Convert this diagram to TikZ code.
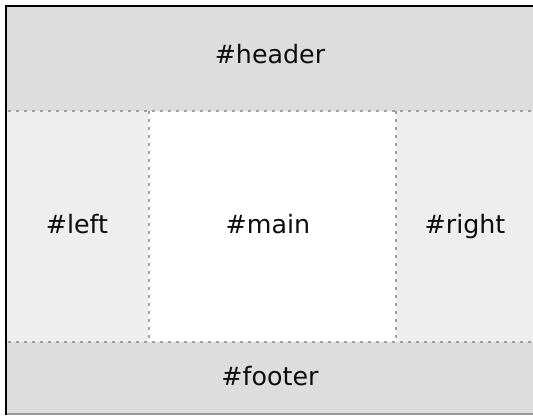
\documentclass[tikz,border=0pt]{standalone}
\usepackage{fontspec}
\setmainfont{DejaVu Sans}
\definecolor{hdrgray}{HTML}{DDDDDD}
\definecolor{sidegray}{HTML}{EEEEEE}
\definecolor{dotgray}{HTML}{A0A0A0}
\begin{document}
\begin{tikzpicture}[x=0.75pt,y=-0.75pt,
  lbl/.style={font=\fontsize{19}{22}\selectfont, text=black!95, anchor=base, inner sep=0pt},
  sepline/.style={draw=dotgray, line width=2.2pt, dash pattern=on 2.2pt off 3.8pt},
  region/.style={draw=none}]
\useasboundingbox (0,0) rectangle (533,415);
\fill[white] (0,0) rectangle (533,415);
% regions
\fill[hdrgray] (6,6) rectangle (533,111);
\fill[sidegray] (6,111) rectangle (149,342);
\fill[white] (149,111) rectangle (396,342);
\fill[sidegray] (396,111) rectangle (533,342);
\fill[hdrgray] (6,342) rectangle (533,413);
% outer borders
\coordinate (tl) at (6,6);
\coordinate (tr) at (533,6);
\coordinate (bl) at (6,415);
\coordinate (bl2) at (6,414);
\coordinate (br) at (533,414);
\draw[gray!80, line width=1.5pt] (bl2) -- (br);
\draw[black, line width=1.5pt] (bl) -- (tl) -- (tr);
% dotted separators
\coordinate (h1l) at (8,111);
\coordinate (h1r) at (533,111);
\coordinate (h2l) at (8,342);
\coordinate (h2r) at (533,342);
\coordinate (v1t) at (149,111);
\coordinate (v1b) at (149,342);
\coordinate (v2t) at (396,111);
\coordinate (v2b) at (396,342);
\draw[sepline] (h1l) -- (h1r);
\draw[sepline] (h2l) -- (h2r);
\draw[sepline] (v1t) -- (v1b);
\draw[sepline] (v2t) -- (v2b);
% labels
\node[lbl] (header) at (270,63) {\#header};
\node[lbl] (left) at (77,233) {\#left};
\node[lbl] (main) at (268,233) {\#main};
\node[lbl] (right) at (465,233) {\#right};
\node[lbl] (footer) at (270,385) {\#footer};
\end{tikzpicture}
\end{document}
